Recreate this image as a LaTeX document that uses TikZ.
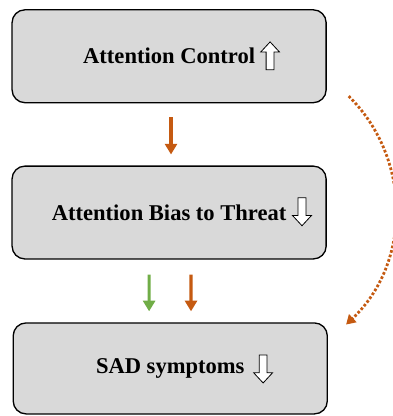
\documentclass[tikz,border=0pt]{standalone}
\usepackage{fontspec}
\setmainfont{Liberation Serif}
\definecolor{boxgray}{RGB}{217, 217, 217}
\definecolor{linkorange}{RGB}{197, 90, 17}
\definecolor{linkgreen}{RGB}{112, 173, 71}
\usetikzlibrary{arrows.meta, positioning, calc}

\tikzset{
  stagebox/.style={draw=black, fill=boxgray, line width=1pt, rounded corners=0.34cm,
    minimum width=8.32cm, minimum height=2.46cm, align=center,
    font=\fontsize{17pt}{20pt}\selectfont\bfseries},
  linkarrow/.style={line width=2.4pt, -{Triangle[width=9pt, length=8pt]}},
  hollowup/.pic={
    \draw[black, fill=white, line width=0.6pt, line join=miter]
      (-0.105,-0.37) -- (-0.105,0.1) -- (-0.25,0.1) -- (0,0.37)
      -- (0.25,0.1) -- (0.105,0.1) -- (0.105,-0.37) -- cycle;
  }
}

\begin{document}
\begin{tikzpicture}
  \useasboundingbox (0,0) rectangle (10.41,11.02);

  % Boxes
  \node[stagebox] (ctrl) at (4.48, 9.53) {Attention Control};
  \node[stagebox] (bias) at (4.48, 5.39) {Attention Bias to Threat};
  \node[stagebox, minimum height=2.41cm] (sad) at (4.51, 1.26) {SAD symptoms};

  % Up / down markers
  \pic at (7.155, 9.54) {hollowup};
  \pic[rotate=180] at (8.0, 5.41) {hollowup};
  \pic[rotate=180] at (6.97, 1.245) {hollowup};

  % Links
  \draw[linkarrow, linkorange, shorten <=0.37cm, shorten >=0.29cm]
    ([xshift=0.05cm]ctrl.south) -- ([xshift=0.05cm]bias.north);
  \draw[linkarrow, linkgreen, shorten <=0.4cm, shorten >=0.29cm]
    ([xshift=-0.53cm]bias.south) -- ([xshift=-0.56cm]sad.north);
  \draw[linkarrow, linkorange, shorten <=0.4cm, shorten >=0.29cm]
    ([xshift=0.58cm]bias.south) -- ([xshift=0.55cm]sad.north);

  % Indirect path
  \draw[linkorange, line width=2.1pt, dash pattern=on 2pt off 1.5pt,
        -{Triangle[width=8pt, length=7pt]}]
    ([xshift=0.58cm, yshift=0.19cm]ctrl.south east)
    to[bend left=46] ([xshift=0.48cm, yshift=-0.06cm]sad.north east);
\end{tikzpicture}
\end{document}
